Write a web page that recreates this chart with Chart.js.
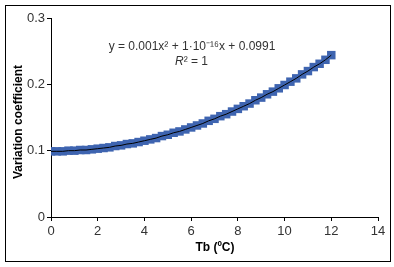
<!DOCTYPE html>
<html>
<head>
<meta charset="utf-8">
<script src="https://cdn.jsdelivr.net/npm/chart.js@4"></script>
<style>
  body { margin: 0; background: #fff; }
  #wrap { width: 394px; height: 267px; }
</style>
</head>
<body>
<div id="wrap"><canvas id="chart"></canvas></div>
<script>
// Tb (ºC) values and variation coefficient
const tbValues = [0, 0.25, 0.5, 0.75, 1, 1.25, 1.5, 1.75, 2, 2.25, 2.5, 2.75, 3, 3.25, 3.5, 3.75,
  4, 4.25, 4.5, 4.75, 5, 5.25, 5.5, 5.75, 6, 6.25, 6.5, 6.75, 7, 7.25, 7.5, 7.75,
  8, 8.25, 8.5, 8.75, 9, 9.25, 9.5, 9.75, 10, 10.25, 10.5, 10.75, 11, 11.25, 11.5, 11.75, 12];
const cvValues = [0.099, 0.099, 0.099, 0.100, 0.100, 0.101, 0.101, 0.102, 0.103, 0.104, 0.105, 0.107, 0.108, 0.110, 0.111, 0.113,
  0.115, 0.117, 0.119, 0.122, 0.124, 0.127, 0.129, 0.132, 0.135, 0.138, 0.141, 0.145, 0.148, 0.152, 0.155, 0.159,
  0.163, 0.167, 0.171, 0.176, 0.180, 0.185, 0.189, 0.194, 0.199, 0.204, 0.209, 0.215, 0.220, 0.226, 0.231, 0.237, 0.244];
const xTicks = [0, 2, 4, 6, 8, 10, 12, 14];
const yTicks = [0, 0.1, 0.2, 0.3];

const equationText = 'y = 0.001x² + 1·10⁻¹⁶x + 0.0991';
const xTitle = 'Tb (ºC)';
const yTitle = 'Variation coefficient';

const FONT = '"Liberation Sans Narrow", "Liberation Sans", Arial, sans-serif';
const points = tbValues.map((x, i) => ({ x, y: cvValues[i] }));

const extras = {
  id: 'extras',
  afterDraw(chart) {
    const ctx = chart.ctx;
    ctx.save();
    // outer frame
    ctx.strokeStyle = '#000';
    ctx.lineWidth = 1;
    ctx.strokeRect(5.5, 5.5, 385, 256);
    // equation
    ctx.fillStyle = '#333';
    ctx.font = '12px ' + FONT;
    ctx.textAlign = 'center';
    ctx.textBaseline = 'middle';
    ctx.fillText(equationText, 192, 47);
    ctx.font = 'italic 12px ' + FONT;
    ctx.textAlign = 'left';
    ctx.fillText('R', 175, 62);
    const rw = ctx.measureText('R').width;
    ctx.font = '12px ' + FONT;
    ctx.fillText('² = 1', 175 + rw, 62);
    // axis titles
    ctx.fillStyle = '#000';
    ctx.font = 'bold 12px ' + FONT;
    ctx.textAlign = 'center';
    ctx.fillText(xTitle, 215, 248);
    ctx.translate(19, 122);
    ctx.rotate(-Math.PI / 2);
    ctx.fillText(yTitle, 0, 0);
    ctx.restore();
  }
};

new Chart(document.getElementById('chart'), {
  type: 'scatter',
  data: {
    datasets: [
      {
        label: 'trend',
        data: points,
        showLine: true,
        borderColor: '#000',
        borderWidth: 1,
        pointRadius: 0,
        order: 0
      },
      {
        label: 'CV',
        data: points,
        pointStyle: 'rect',
        pointRadius: 6,
        backgroundColor: '#3e64b0',
        borderColor: '#3e64b0',
        borderWidth: 0,
        order: 1
      }
    ]
  },
  options: {
    responsive: true,
    maintainAspectRatio: false,
    animation: false,
    layout: { padding: { left: 0, right: 16, top: 18, bottom: 0 } },
    plugins: { legend: { display: false }, tooltip: { enabled: false } },
    scales: {
      x: {
        type: 'linear',
        min: 0, max: 14,
        afterBuildTicks: s => { s.ticks = xTicks.map(v => ({ value: v })); },
        afterFit: s => { s.height = 50; },
        grid: { drawOnChartArea: false, color: '#000', tickLength: 4 },
        border: { color: '#000' },
        ticks: { color: '#333', font: { family: FONT, size: 13 }, padding: 3, maxRotation: 0 }
      },
      y: {
        type: 'linear',
        min: 0, max: 0.3,
        afterBuildTicks: s => { s.ticks = yTicks.map(v => ({ value: v })); },
        afterFit: s => { s.width = 51; },
        grid: { drawOnChartArea: false, color: '#000', tickLength: 4 },
        border: { color: '#000' },
        ticks: { color: '#333', font: { family: FONT, size: 13 }, padding: 2 }
      }
    }
  },
  plugins: [extras]
});
</script>
</body>
</html>
